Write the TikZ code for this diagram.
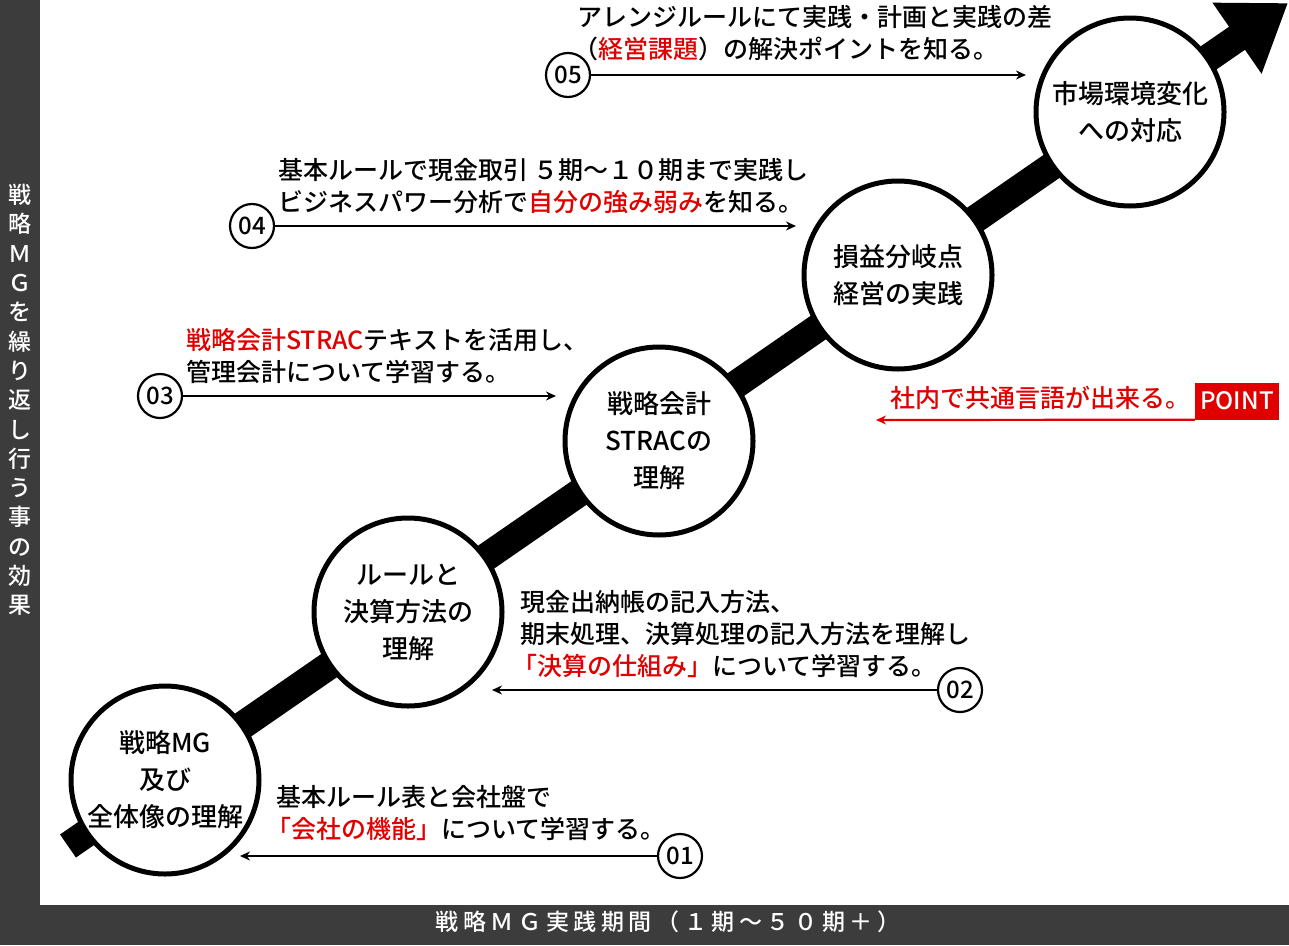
\documentclass[tikz,border=0pt]{standalone}
\usepackage{fontspec}
\setmainfont{Noto Sans CJK JP}[BoldFont={* Bold}]
\newfontfamily\med{Noto Sans CJK JP Medium}
\usetikzlibrary{arrows.meta}
\definecolor{bar}{HTML}{3C3C3C}
\definecolor{rd}{HTML}{E00000}
\tikzset{
 big/.style={circle,draw=black,line width=5,fill=white,minimum size=188,inner sep=0,align=center,font=\fontsize{26}{37}\selectfont\med},
 num/.style={circle,draw=black,line width=2.2,fill=white,minimum size=44,inner sep=0,font=\fontsize{24}{24}\selectfont\med},
 lab/.style={anchor=west,align=left,inner sep=0,font=\fontsize{25}{32}\selectfont\med},
 arr/.style={line width=2.2,-{Stealth[length=10,width=9]}},
}
\newcommand{\R}[1]{\textcolor{rd}{#1}}
\begin{document}
\begin{tikzpicture}[x=1pt,y=-1pt]
\useasboundingbox (0,0) rectangle (1289,945);
\fill[white] (0,0) rectangle (1289,945);
\fill[bar] (0,0) rectangle (40,945);
\fill[bar] (40,905) rectangle (1289,945);
\node[text=white,align=center,inner sep=0,font=\fontsize{23}{29.3}\selectfont\med] (vt) at (20,400) {戦\\略\\Ｍ\\Ｇ\\を\\繰\\り\\返\\し\\行\\う\\事\\の\\効\\果};
\node[text=white,inner sep=0,font=\fontsize{23}{23}\selectfont\med\addfontfeature{LetterSpace=20}] (bt) at (668,922) {戦略ＭＧ実践期間（１期〜５０期＋）};
\coordinate (s) at (68,846);
\coordinate (e) at (1288,3);
\draw[line width=28,-{Triangle[length=62,width=82]}] (s) -- (e);
\node[big] (c1) at (165,780) {戦略MG\\及び\\全体像の理解};
\node[big] (c2) at (408,612) {ルールと\\決算方法の\\理解};
\node[big] (c3) at (659,441) {戦略会計\\STRACの\\理解};
\node[big] (c4) at (898,275) {損益分岐点\\経営の実践};
\node[big] (c5) at (1130,112) {市場環境変化\\への対応};
% 01
\node[num] (n1) at (680,856) {01};
\coordinate (a1) at (240,856);
\draw[arr] (n1) -- (a1);
\node[lab] (t1) at (266,813) {\hspace{10pt}基本ルール表と会社盤で\\\R{「会社の機能」}について学習する。};
% 02
\node[num] (n2) at (960,690) {02};
\coordinate (a2) at (492,690);
\draw[arr] (n2) -- (a2);
\node[lab] (t2) at (512,634) {\hspace{8pt}現金出納帳の記入方法、\\\hspace{8pt}期末処理、決算処理の記入方法を理解し\\\R{「決算の仕組み」}について学習する。};
% 03
\node[num] (n3) at (160,396) {03};
\coordinate (a3) at (556,396);
\draw[arr] (n3) -- (a3);
\node[lab] (t3) at (186,356) {\R{戦略会計STRAC}テキストを活用し、\\管理会計について学習する。};
% 04
\node[num] (n4) at (252,226) {04};
\coordinate (a4) at (796,226);
\draw[arr] (n4) -- (a4);
\node[lab] (t4) at (278,186) {基本ルールで現金取引 ５期〜１０期まで実践し\\ビジネスパワー分析で\R{自分の強み弱み}を知る。};
% 05
\node[num] (n5) at (568,75) {05};
\coordinate (a5) at (1026,75);
\draw[arr] (n5) -- (a5);
\node[lab] (t5) at (577,33) {アレンジルールにて実践・計画と実践の差\\\hspace{-4pt}（\R{経営課題}）の解決ポイントを知る。};
% POINT
\node[fill=rd,text=white,inner sep=0,minimum width=84,minimum height=37,font=\fontsize{24}{24}\selectfont\med] (pt) at (1237,401) {POINT};
\node[anchor=east,inner sep=0,text=rd,font=\fontsize{25}{25}\selectfont\med] (ptx) at (1191,398) {社内で共通言語が出来る。};
\coordinate (pe) at (876,420);
\draw[rd,line width=2.2,-{Stealth[length=10,width=9]}] (pt.south west) -- (pe);
\end{tikzpicture}
\end{document}
